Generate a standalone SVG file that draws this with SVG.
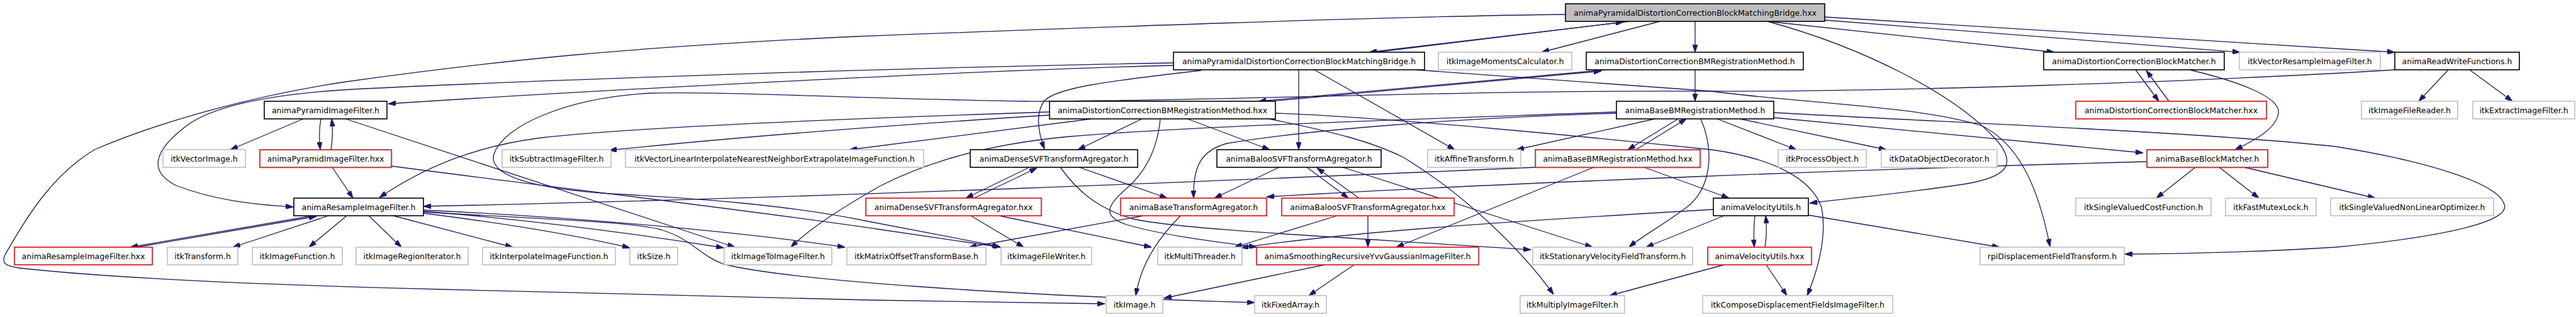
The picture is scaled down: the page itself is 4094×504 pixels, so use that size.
<svg xmlns="http://www.w3.org/2000/svg" width="4094" height="504" viewBox="0 0 4094 504">
<style>
.e{fill:none;stroke:#191970;stroke-width:1.3;marker-end:url(#a)}
.n rect{fill:#fff;stroke-width:1.6}
.k rect{stroke:#000}
.g rect{stroke:#bfbfbf}
.r rect{stroke:#ff0000}
.t rect{fill:#bfbfbf;stroke:#000}
.n text{font-family:"DejaVu Sans","Liberation Sans",sans-serif;font-size:12.5px;text-anchor:middle;fill:#000}
</style>
<defs>
<marker id="a" markerUnits="userSpaceOnUse" markerWidth="12" markerHeight="8" refX="12" refY="4" orient="auto"><path d="M0,0 L12,4 L0,8 Z" fill="#191970" stroke="#191970" stroke-width="1"/></marker>
</defs>
<g id="edges">
<path class="e" d="M2590,34 L2176,83"/>
<path class="e" d="M2186,83 L2580,35"/>
<path class="e" d="M2638,34 L2450,83"/>
<path class="e" d="M2694,34 L2694,83"/>
<path class="e" d="M2809,34 L3265,83"/>
<path class="e" d="M2900,32 L3560,83"/>
<path class="e" d="M2900,27 L3806,83"/>
<path class="e" d="M2809,34 C2960,75 3110,150 3175,225 C3205,262 3190,282 3120,293 C3020,308 2940,315 2876,323"/>
<path class="e" d="M2488,23 C2200,26 1700,45 1360,58 C1000,75 800,95 550,130 C400,152 250,195 150,238 C80,280 40,350 8,405 C2,418 8,423 30,426 C200,445 500,455 700,460 L1380,477 L1756,483"/>
<path class="e" d="M1865,100 C1500,106 900,125 560,142 C420,150 330,170 290,205 C240,245 240,275 280,295 C340,318 400,325 466,329"/>
<path class="e" d="M1865,104 C1600,110 1000,140 617,165"/>
<path class="e" d="M1909,112 C1750,130 1680,140 1660,160 C1645,180 1650,210 1660,237"/>
<path class="e" d="M2064,111 L2064,238"/>
<path class="e" d="M2089,111 L2312,238"/>
<path class="e" d="M2250,111 L2720,145 C2850,163 3050,168 3150,200 C3210,230 3240,300 3258,392"/>
<path class="e" d="M2552,111 L2000,161"/>
<path class="e" d="M2008,162 L2545,113"/>
<path class="e" d="M2694,111 L2694,161"/>
<path class="e" d="M1815,189 L1713,238"/>
<path class="e" d="M1887,189 L2018,238"/>
<path class="e" d="M1735,189 L1350,238"/>
<path class="e" d="M1668,183 C1400,200 1150,220 968,239"/>
<path class="e" d="M1668,178 C1300,190 1000,203 860,219 C760,232 680,262 603,314"/>
<path class="e" d="M1844,189 C1840,230 1825,270 1790,300 C1755,330 1755,345 1790,357 C1850,375 1940,385 1997,393"/>
<path class="e" d="M2027,180 C2200,186 2550,220 2720,238 C2820,252 2880,285 2895,330 C2905,380 2885,440 2872,470"/>
<path class="e" d="M2017,189 C2120,210 2180,225 2230,250 C2330,310 2420,400 2469,468"/>
<path class="e" d="M2630,189 L2410,238"/>
<path class="e" d="M2667,189 L2587,238"/>
<path class="e" d="M2600,238 L2680,189"/>
<path class="e" d="M2703,189 C2725,240 2720,300 2680,330 C2640,360 2610,375 2589,393"/>
<path class="e" d="M2729,189 L2855,238"/>
<path class="e" d="M2765,189 L2998,238"/>
<path class="e" d="M2819,187 L3406,243"/>
<path class="e" d="M2819,179 C3100,195 3500,210 3712,233 C3850,255 3970,290 3980,325 C3990,350 3900,375 3712,393 C3600,400 3500,403 3377,404"/>
<path class="e" d="M3412,257 C3000,268 2400,290 2013,313"/>
<path class="e" d="M3489,266 L3427,315"/>
<path class="e" d="M3527,266 L3590,315"/>
<path class="e" d="M3567,266 L3775,315"/>
<path class="e" d="M2569,178 C2300,188 1900,200 1700,217 C1560,230 1470,260 1400,295 C1330,335 1285,365 1257,393"/>
<path class="e" d="M2569,180 C2300,188 2070,208 1950,228 C1905,240 1896,270 1897,315"/>
<path class="e" d="M2440,266 C2000,285 1300,315 673,328"/>
<path class="e" d="M2613,266 L2748,315"/>
<path class="e" d="M2533,266 L2219,393"/>
<path class="e" d="M1636,266 L1535,315"/>
<path class="e" d="M1548,315 L1648,267"/>
<path class="e" d="M1715,266 L1855,315"/>
<path class="e" d="M1685,266 C1710,300 1740,330 1800,348 C1880,365 2100,375 2433,397"/>
<path class="e" d="M1543,343 L1627,393"/>
<path class="e" d="M1588,343 L1830,393"/>
<path class="e" d="M1817,343 L1540,393"/>
<path class="e" d="M1876,343 C1850,370 1815,410 1805,470"/>
<path class="e" d="M2033,266 L1930,315"/>
<path class="e" d="M2077,266 L2143,315"/>
<path class="e" d="M2160,315 L2093,267"/>
<path class="e" d="M2134,266 L2531,393"/>
<path class="e" d="M2174,343 L2174,393"/>
<path class="e" d="M2125,343 L1962,393"/>
<path class="e" d="M2789,343 C2787,360 2787,375 2788,393"/>
<path class="e" d="M2805,393 C2808,375 2808,360 2806,343"/>
<path class="e" d="M2874,342 L3178,393"/>
<path class="e" d="M2740,343 L2616,393"/>
<path class="e" d="M2723,333 C2400,352 2150,368 1972,394"/>
<path class="e" d="M2807,421 L2840,470"/>
<path class="e" d="M2740,421 L2558,470"/>
<path class="e" d="M2152,421 L2080,470"/>
<path class="e" d="M2105,421 L1850,474"/>
<path class="e" d="M497,343 L207,393"/>
<path class="e" d="M217,393 L503,344"/>
<path class="e" d="M522,343 L370,393"/>
<path class="e" d="M551,343 L491,393"/>
<path class="e" d="M586,343 L638,393"/>
<path class="e" d="M625,343 L815,393"/>
<path class="e" d="M673,339 C800,355 920,375 1001,394"/>
<path class="e" d="M673,336 C850,350 1000,370 1150,394"/>
<path class="e" d="M673,334 C900,345 1150,365 1343,393"/>
<path class="e" d="M673,337 C850,348 1000,352 1050,365 C1100,380 1110,405 1150,420 C1250,445 1600,470 1994,481"/>
<path class="e" d="M482,189 L366,238"/>
<path class="e" d="M510,189 C507,205 507,220 509,238"/>
<path class="e" d="M526,238 C529,220 529,205 527,189"/>
<path class="e" d="M549,189 L1168,393"/>
<path class="e" d="M528,266 L561,315"/>
<path class="e" d="M622,264 C800,288 1200,335 1400,365 L1590,393"/>
<path class="e" d="M3806,111 C3500,130 3000,146 2720,145 C2300,143 1900,162 1628,161 C1400,158 1150,145 1037,148 C900,155 800,200 785,245 C775,280 850,300 970,308 C1100,315 1250,325 1380,352 L1589,392"/>
<path class="e" d="M3891,111 L3844,161"/>
<path class="e" d="M3925,111 L3993,161"/>
<path class="e" d="M3394,111 L3431,161"/>
<path class="e" d="M3447,161 L3411,112"/>
<path class="e" d="M3480,111 C3560,130 3625,155 3621,180 C3618,205 3580,225 3552,238"/>
</g>
<g id="T" class="n t"><rect x="2488" y="6" width="412" height="28"/><text x="2694" y="24.5">animaPyramidalDistortionCorrectionBlockMatchingBridge.hxx</text></g>
<g id="PBh" class="n k"><rect x="1865" y="83" width="399" height="28"/><text x="2064.5" y="101.5">animaPyramidalDistortionCorrectionBlockMatchingBridge.h</text></g>
<g id="IMC" class="n g"><rect x="2286" y="83" width="212" height="28"/><text x="2392" y="101.5">itkImageMomentsCalculator.h</text></g>
<g id="DCBMh" class="n k"><rect x="2521" y="83" width="345" height="28"/><text x="2693.5" y="101.5">animaDistortionCorrectionBMRegistrationMethod.h</text></g>
<g id="DCBMatcher" class="n k"><rect x="3248" y="83" width="287" height="28"/><text x="3391.5" y="101.5">animaDistortionCorrectionBlockMatcher.h</text></g>
<g id="VRIF" class="n g"><rect x="3559" y="83" width="224" height="28"/><text x="3671" y="101.5">itkVectorResampleImageFilter.h</text></g>
<g id="RWF" class="n k"><rect x="3806" y="83" width="198" height="28"/><text x="3905" y="101.5">animaReadWriteFunctions.h</text></g>
<g id="PIFh" class="n k"><rect x="420" y="161" width="195" height="28"/><text x="517.5" y="179.5">animaPyramidImageFilter.h</text></g>
<g id="DCBMhxx" class="n k"><rect x="1668" y="161" width="359" height="28"/><text x="1847.5" y="179.5">animaDistortionCorrectionBMRegistrationMethod.hxx</text></g>
<g id="BBMh" class="n k"><rect x="2569" y="161" width="250" height="28"/><text x="2694" y="179.5">animaBaseBMRegistrationMethod.h</text></g>
<g id="DCBMatcherhxx" class="n r"><rect x="3299" y="161" width="303" height="28"/><text x="3450.5" y="179.5">animaDistortionCorrectionBlockMatcher.hxx</text></g>
<g id="IFR" class="n g"><rect x="3753" y="161" width="153" height="28"/><text x="3829.5" y="179.5">itkImageFileReader.h</text></g>
<g id="EIF" class="n g"><rect x="3930" y="161" width="162" height="28"/><text x="4011" y="179.5">itkExtractImageFilter.h</text></g>
<g id="VI" class="n g"><rect x="259" y="238" width="131" height="28"/><text x="324.5" y="256.5">itkVectorImage.h</text></g>
<g id="PIFhxx" class="n r"><rect x="413" y="238" width="209" height="28"/><text x="517.5" y="256.5">animaPyramidImageFilter.hxx</text></g>
<g id="SIF" class="n g"><rect x="798" y="238" width="173" height="28"/><text x="884.5" y="256.5">itkSubtractImageFilter.h</text></g>
<g id="VLI" class="n g"><rect x="994" y="238" width="474" height="28"/><text x="1231" y="256.5">itkVectorLinearInterpolateNearestNeighborExtrapolateImageFunction.h</text></g>
<g id="DSVFh" class="n k"><rect x="1542" y="238" width="266" height="28"/><text x="1675" y="256.5">animaDenseSVFTransformAgregator.h</text></g>
<g id="BSVFh" class="n k"><rect x="1934" y="238" width="261" height="28"/><text x="2064.5" y="256.5">animaBalooSVFTransformAgregator.h</text></g>
<g id="AFF" class="n g"><rect x="2269" y="238" width="148" height="28"/><text x="2343" y="256.5">itkAffineTransform.h</text></g>
<g id="BBMhxx" class="n r"><rect x="2440" y="238" width="262" height="28"/><text x="2571" y="256.5">animaBaseBMRegistrationMethod.hxx</text></g>
<g id="PO" class="n g"><rect x="2826" y="238" width="140" height="28"/><text x="2896" y="256.5">itkProcessObject.h</text></g>
<g id="DOD" class="n g"><rect x="2990" y="238" width="184" height="28"/><text x="3082" y="256.5">itkDataObjectDecorator.h</text></g>
<g id="BBM" class="n r"><rect x="3412" y="238" width="192" height="28"/><text x="3508" y="256.5">animaBaseBlockMatcher.h</text></g>
<g id="RIFh" class="n k"><rect x="467" y="315" width="206" height="28"/><text x="570" y="333.5">animaResampleImageFilter.h</text></g>
<g id="DSVFhxx" class="n r"><rect x="1376" y="315" width="279" height="28"/><text x="1515.5" y="333.5">animaDenseSVFTransformAgregator.hxx</text></g>
<g id="BTA" class="n r"><rect x="1781" y="315" width="232" height="28"/><text x="1897" y="333.5">animaBaseTransformAgregator.h</text></g>
<g id="BSVFhxx" class="n r"><rect x="2037" y="315" width="274" height="28"/><text x="2174" y="333.5">animaBalooSVFTransformAgregator.hxx</text></g>
<g id="VU" class="n k"><rect x="2723" y="315" width="151" height="28"/><text x="2798.5" y="333.5">animaVelocityUtils.h</text></g>
<g id="SVCF" class="n g"><rect x="3299" y="315" width="215" height="28"/><text x="3406.5" y="333.5">itkSingleValuedCostFunction.h</text></g>
<g id="FML" class="n g"><rect x="3537" y="315" width="144" height="28"/><text x="3609" y="333.5">itkFastMutexLock.h</text></g>
<g id="SVNLO" class="n g"><rect x="3704" y="315" width="259" height="28"/><text x="3833.5" y="333.5">itkSingleValuedNonLinearOptimizer.h</text></g>
<g id="RIFhxx" class="n r"><rect x="23" y="393" width="219" height="28"/><text x="132.5" y="411.5">animaResampleImageFilter.hxx</text></g>
<g id="TR" class="n g"><rect x="266" y="393" width="112" height="28"/><text x="322" y="411.5">itkTransform.h</text></g>
<g id="IFn" class="n g"><rect x="401" y="393" width="143" height="28"/><text x="472.5" y="411.5">itkImageFunction.h</text></g>
<g id="IRI" class="n g"><rect x="566" y="393" width="178" height="28"/><text x="655" y="411.5">itkImageRegionIterator.h</text></g>
<g id="IIF" class="n g"><rect x="767" y="393" width="211" height="28"/><text x="872.5" y="411.5">itkInterpolateImageFunction.h</text></g>
<g id="SZ" class="n g"><rect x="1001" y="393" width="76" height="28"/><text x="1039" y="411.5">itkSize.h</text></g>
<g id="IT2I" class="n g"><rect x="1151" y="393" width="171" height="28"/><text x="1236.5" y="411.5">itkImageToImageFilter.h</text></g>
<g id="MOTB" class="n g"><rect x="1346" y="393" width="221" height="28"/><text x="1456.5" y="411.5">itkMatrixOffsetTransformBase.h</text></g>
<g id="IFW" class="n g"><rect x="1591" y="393" width="144" height="28"/><text x="1663" y="411.5">itkImageFileWriter.h</text></g>
<g id="MT" class="n g"><rect x="1840" y="393" width="134" height="28"/><text x="1907" y="411.5">itkMultiThreader.h</text></g>
<g id="SRYG" class="n r"><rect x="1997" y="393" width="353" height="28"/><text x="2173.5" y="411.5">animaSmoothingRecursiveYvvGaussianImageFilter.h</text></g>
<g id="SVFT" class="n g"><rect x="2436" y="393" width="254" height="28"/><text x="2563" y="411.5">itkStationaryVelocityFieldTransform.h</text></g>
<g id="VUhxx" class="n r"><rect x="2714" y="393" width="165" height="28"/><text x="2796.5" y="411.5">animaVelocityUtils.hxx</text></g>
<g id="RPI" class="n g"><rect x="3147" y="393" width="229" height="28"/><text x="3261.5" y="411.5">rpiDisplacementFieldTransform.h</text></g>
<g id="IMG" class="n g"><rect x="1758" y="470" width="90" height="28"/><text x="1803" y="488.5">itkImage.h</text></g>
<g id="FA" class="n g"><rect x="1994" y="470" width="114" height="28"/><text x="2051" y="488.5">itkFixedArray.h</text></g>
<g id="MIF" class="n g"><rect x="2416" y="470" width="166" height="28"/><text x="2499" y="488.5">itkMultiplyImageFilter.h</text></g>
<g id="CDF" class="n g"><rect x="2706" y="470" width="302" height="28"/><text x="2857" y="488.5">itkComposeDisplacementFieldsImageFilter.h</text></g>
</svg>
